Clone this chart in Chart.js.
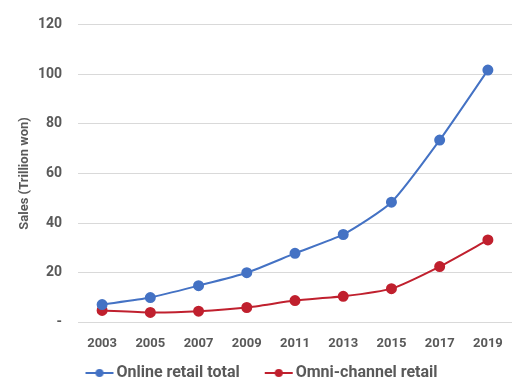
<!DOCTYPE html>
<html>
<head>
<meta charset="utf-8">
<script src="https://cdn.jsdelivr.net/npm/chart.js@4/dist/chart.umd.min.js"></script>
<style>
  html, body { margin: 0; padding: 0; background: #fff; }
  #wrap { width: 528px; height: 388px; position: relative; }
</style>
</head>
<body>
<div id="wrap"><canvas id="salesChart"></canvas></div>
<script>
const years = ['2003', '2005', '2007', '2009', '2011', '2013', '2015', '2017', '2019'];
const onlineTotal = [7.2, 10.0, 14.8, 20.0, 27.8, 35.4, 48.4, 73.4, 101.6];
const omniChannel = [4.8, 4.0, 4.5, 6.0, 8.8, 10.5, 13.6, 22.5, 33.2];
const yTicks = [0, 20, 40, 60, 80, 100, 120];

const blue = '#4472c4';
const red = '#c0202e';
const textGray = '#595959';

// legend marker: blank lead-in (acts as gap between items), then line with a dot
function legendMarker(color) {
    const c = document.createElement('canvas');
    c.width = 56; c.height = 10;
    const g = c.getContext('2d');
    g.strokeStyle = color; g.lineWidth = 2;
    g.beginPath(); g.moveTo(27, 5); g.lineTo(55, 5); g.stroke();
    g.fillStyle = color;
    g.beginPath(); g.arc(41, 5, 4, 0, Math.PI * 2); g.fill();
    return c;
}
const markers = [legendMarker(blue), legendMarker(red)];

// nudge the legend so the visible part sits where the original one does
const legendNudge = {
    id: 'legendNudge',
    afterLayout(chart) {
        const lg = chart.legend;
        if (!lg) return;
        lg.left -= 10; lg.right -= 10;
        lg.top += 3; lg.bottom += 3;
    }
};

const ctx = document.getElementById('salesChart').getContext('2d');
new Chart(ctx, {
    type: 'line',
    data: {
        labels: years,
        datasets: [
            {
                label: 'Online retail total', data: onlineTotal,
                borderColor: blue, backgroundColor: blue, borderWidth: 2,
                pointRadius: 4.5, pointHoverRadius: 4.5, tension: 0.2
            },
            {
                label: 'Omni-channel retail', data: omniChannel,
                borderColor: red, backgroundColor: red, borderWidth: 2,
                pointRadius: 4.5, pointHoverRadius: 4.5, tension: 0.2
            }
        ]
    },
    plugins: [legendNudge],
    options: {
        responsive: true,
        maintainAspectRatio: false,
        animation: false,
        layout: { padding: { top: 14, right: 16, bottom: 0, left: 10 } },
        plugins: {
            tooltip: { enabled: false },
            legend: {
                position: 'bottom',
                labels: {
                    usePointStyle: true,
                    pointStyleWidth: 44,
                    boxHeight: 10,
                    padding: 4,
                    color: textGray,
                    font: { family: 'Roboto', size: 16, weight: 'bold' },
                    generateLabels(chart) {
                        return chart.data.datasets.map((ds, i) => ({
                            text: ds.label,
                            pointStyle: markers[i],
                            fillStyle: ds.borderColor,
                            strokeStyle: ds.borderColor,
                            fontColor: textGray,
                            lineWidth: 0,
                            datasetIndex: i
                        }));
                    }
                }
            }
        },
        scales: {
            x: {
                offset: true,
                grid: { display: false },
                border: { display: false },
                ticks: {
                    color: textGray, padding: 6,
                    font: { family: 'Roboto', size: 13, weight: 'bold' }
                }
            },
            y: {
                min: 0, max: 120,
                afterBuildTicks(axis) { axis.ticks = yTicks.map(v => ({ value: v })); },
                afterFit(axis) { axis.width = 68; },
                grid: { color: '#d9d9d9', lineWidth: 1, drawTicks: false },
                border: { display: false },
                ticks: {
                    color: textGray, padding: 16,
                    font: { family: 'Roboto', size: 14, weight: 'bold' },
                    callback: v => v === 0 ? '-' : v
                },
                title: {
                    display: true, text: 'Sales (Trillion won)', color: textGray,
                    padding: { top: 7, bottom: 0 },
                    font: { family: 'Roboto', size: 13, weight: 'bold' }
                }
            }
        }
    }
});
</script>
</body>
</html>
